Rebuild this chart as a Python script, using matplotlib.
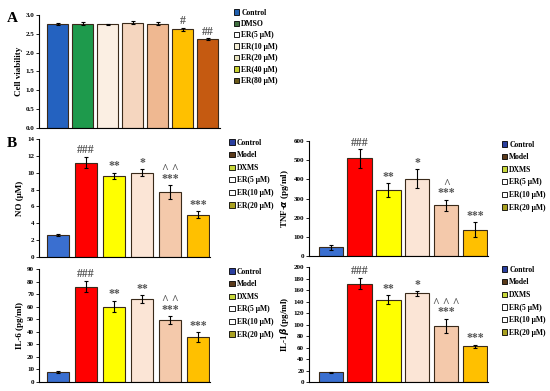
import numpy as np
import matplotlib
matplotlib.use('Agg')
from matplotlib import pyplot as plt
from matplotlib.patches import Patch

plt.rcParams['font.family'] = ['Liberation Serif', 'DejaVu Serif']
plt.rcParams['font.weight'] = 'bold'

# 資料 ---------------------------------------------------------------
a_groups = ['Control', 'DMSO', 'ER(5 μM)', 'ER(10 μM)', 'ER(20 μM)', 'ER(40 μM)', 'ER(80 μM)']
a_vals = [2.75, 2.77, 2.75, 2.79, 2.77, 2.62, 2.35]
a_errs = [0.03, 0.03, 0.02, 0.04, 0.03, 0.04, 0.03]
a_marks = ['', '', '', '', '', '#', '##']

b_groups = ['Control', 'Model', 'DXMS', 'ER(5 μM)', 'ER(10 μM)', 'ER(20 μM)']

no_vals = [2.6, 11.2, 9.6, 10.0, 7.7, 5.0]
no_errs = [0.1, 0.7, 0.4, 0.4, 0.8, 0.4]
no_marks = ['', '###', '**', '*', '^ ^\n***', '***']

tnf_vals = [45, 510, 345, 405, 265, 138]
tnf_errs = [12, 48, 35, 48, 30, 38]
tnf_marks = ['', '###', '**', '*', '^\n***', '***']

il6_vals = [8, 76, 60, 66, 49.5, 35.5]
il6_errs = [0.6, 4.5, 4.5, 3.0, 3.0, 4.0]
il6_marks = ['', '###', '**', '**', '^ ^\n***', '***']

il1_vals = [17, 171, 143, 154, 98, 62]
il1_errs = [1, 10, 8, 4, 12, 3]
il1_marks = ['', '###', '**', '*', '^ ^ ^\n***', '***']

# 顏色 ---------------------------------------------------------------
a_colors = ['#2462c0', '#1e9a4c', '#fbefe3', '#f5d6bf', '#efb891', '#ffc000', '#c55a11']
a_leg = ['#1f5fae', '#3f6f3f', '#ffffff', '#f6f0d8', '#e8e4c0', '#c8d030', '#6b5a1a']
b_colors = ['#3a6fd0', '#ff0000', '#ffff00', '#fbe5d6', '#f4c9ab', '#ffc000']
b_leg = ['#2a3f9f', '#5a3a1a', '#c8d83a', '#ffffff', '#ffffff', '#a8a020']
edge = '#3a2a1a'

fig = plt.figure(figsize=(5.5, 3.91), dpi=100)


def panel(rect, vals, errs, marks, colors, leg_colors, labels, ylabel,
          ymax, ystep, xlim, width, legx, legy, spacing):
    ax = fig.add_axes(rect)
    x = np.arange(len(vals))
    ax.bar(x, vals, width=width, color=colors, edgecolor=edge, linewidth=0.8,
           yerr=errs, error_kw=dict(ecolor='black', elinewidth=0.8, capsize=1.5, capthick=0.8))
    for i in range(len(vals)):
        if marks[i]:
            ax.text(x[i], vals[i] + errs[i] + ymax * 0.005, marks[i], ha='center', va='bottom',
                    fontsize=8.5, color='#555555', linespacing=0.7)
    ax.set_xlim(*xlim)
    ax.set_ylim(0, ymax)
    ax.set_yticks(np.arange(0, ymax + ystep / 2, ystep))
    ax.set_xticks([])
    for s in ['top', 'right']:
        ax.spines[s].set_visible(False)
    ax.spines['left'].set_linewidth(0.8)
    ax.spines['bottom'].set_linewidth(0.8)
    ax.tick_params(axis='y', labelsize=5, width=0.6, length=2, pad=1.5)
    for t in ax.get_yticklabels():
        t.set_fontweight('bold')
    ax.set_ylabel(ylabel, fontsize=6.5, fontweight='bold', labelpad=2)
    handles = [Patch(facecolor=c, edgecolor='black', linewidth=0.6) for c in leg_colors]
    fig.legend(handles, labels, loc='upper left', bbox_to_anchor=(legx, legy),
               frameon=False, handlelength=0.7, handleheight=0.7,
               handletextpad=0.3, labelspacing=spacing, borderpad=0,
               prop={'size': 5.5, 'weight': 'bold'})
    return ax


panel([0.071, 0.673, 0.329, 0.289], a_vals, a_errs, a_marks, a_colors, a_leg, a_groups,
      'Cell viability', 3.0, 0.5, (-0.74, 6.5), 0.84, 0.418, 0.988, 0.45)

panel([0.071, 0.343, 0.311, 0.3015], no_vals, no_errs, no_marks, b_colors, b_leg, b_groups,
      'NO (μM)', 14, 2, (-0.68, 5.43), 0.79, 0.41, 0.655, 0.6)

panel([0.562, 0.345, 0.325, 0.294], tnf_vals, tnf_errs, tnf_marks, b_colors, b_leg, b_groups,
      'TNF-$\\mathit{α}$ (pg/ml)', 600, 100, (-0.74, 5.43), 0.83, 0.905, 0.65, 0.6)

panel([0.071, 0.023, 0.311, 0.289], il6_vals, il6_errs, il6_marks, b_colors, b_leg, b_groups,
      'IL-6 (pg/ml)', 90, 10, (-0.68, 5.43), 0.79, 0.41, 0.325, 0.6)

panel([0.562, 0.023, 0.325, 0.294], il1_vals, il1_errs, il1_marks, b_colors, b_leg, b_groups,
      'IL-1$\\mathit{β}$ (pg/ml)', 200, 20, (-0.74, 5.43), 0.83, 0.905, 0.33, 0.6)

fig.text(0.013, 0.945, 'A', fontsize=11, fontweight='bold')
fig.text(0.013, 0.625, 'B', fontsize=11, fontweight='bold')

fig.savefig('out.png', dpi=100)
